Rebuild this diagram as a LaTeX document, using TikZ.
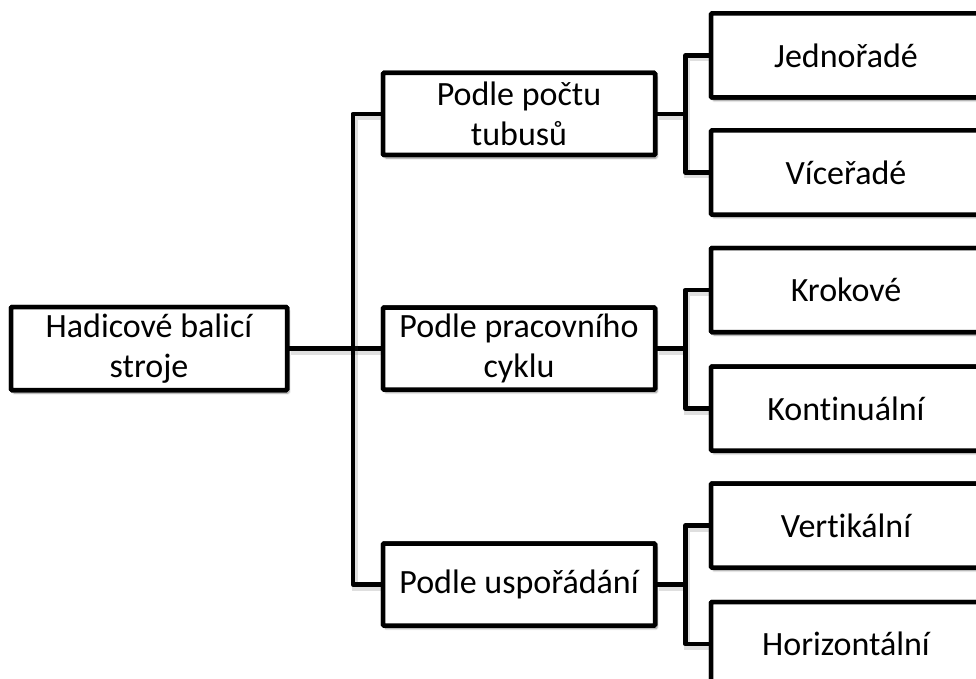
\documentclass[tikz,border=0pt]{standalone}
\usepackage{fontspec}
\setmainfont[Ligatures={NoCommon}]{Carlito}
\usetikzlibrary{calc,shadows.blur}
\begin{document}
\begin{tikzpicture}[x=1pt,y=-1pt,
  box/.style={draw=black, line width=4.5pt, fill=white, rounded corners=1pt,
    align=center, inner sep=0pt, font=\fontsize{34}{39.5}\selectfont,
    blur shadow={shadow xshift=2pt, shadow yshift=-3pt, shadow opacity=25, shadow blur steps=6}},
  rootbox/.style={box, minimum width=276pt, minimum height=83pt},
  midbox/.style={box, minimum width=272pt, minimum height=82pt},
  leafbox/.style={box, minimum width=270pt, minimum height=84pt},
  link/.style={draw=black, line width=4.5pt, line join=round,
    preaction={draw=black!70, opacity=0.18, line width=6pt, transform canvas={shift={(2pt,-3pt)}}}}
]
\useasboundingbox (0,0) rectangle (976,679);
\clip (0,0) rectangle (976,679);
% nodes
\node[rootbox] (root) at (149,348.5) {Hadicové balicí\\stroje};
\node[midbox] (p1) at (519,114) {Podle počtu\\tubusů};
\node[midbox] (p2) at (519,348.5) {Podle pracovního\\cyklu};
\node[midbox] (p3) at (519,584.5) {Podle uspořádání};
\node[leafbox] (c1) at (846,55.5) {Jednořadé};
\node[leafbox] (c2) at (846,172.5) {Víceřadé};
\node[leafbox] (c3) at (846,290) {Krokové};
\node[leafbox] (c4) at (846,408.5) {Kontinuální};
\node[leafbox] (c5) at (846,525.5) {Vertikální};
\node[leafbox] (c6) at (846,644) {Horizontální};
% connectors
\draw[link] (root.east) -- (p2.west);
\draw[link] (p1.west) -- ++(-28,0) |- (p3.west);
\draw[link] (p1.east) -- ++(28,0);
\draw[link] (c1.west) -| ($(p1.east)+(28,0)$) |- (c2.west);
\draw[link] (p2.east) -- ++(28,0);
\draw[link] (c3.west) -| ($(p2.east)+(28,0)$) |- (c4.west);
\draw[link] (p3.east) -- ++(28,0);
\draw[link] (c5.west) -| ($(p3.east)+(28,0)$) |- (c6.west);
% redraw nodes on top of the connectors
\node[rootbox] at (root) {Hadicové balicí\\stroje};
\node[midbox] at (p1) {Podle počtu\\tubusů};
\node[midbox] at (p2) {Podle pracovního\\cyklu};
\node[midbox] at (p3) {Podle uspořádání};
\node[leafbox] at (c1) {Jednořadé};
\node[leafbox] at (c2) {Víceřadé};
\node[leafbox] at (c3) {Krokové};
\node[leafbox] at (c4) {Kontinuální};
\node[leafbox] at (c5) {Vertikální};
\node[leafbox] at (c6) {Horizontální};
\end{tikzpicture}
\end{document}
